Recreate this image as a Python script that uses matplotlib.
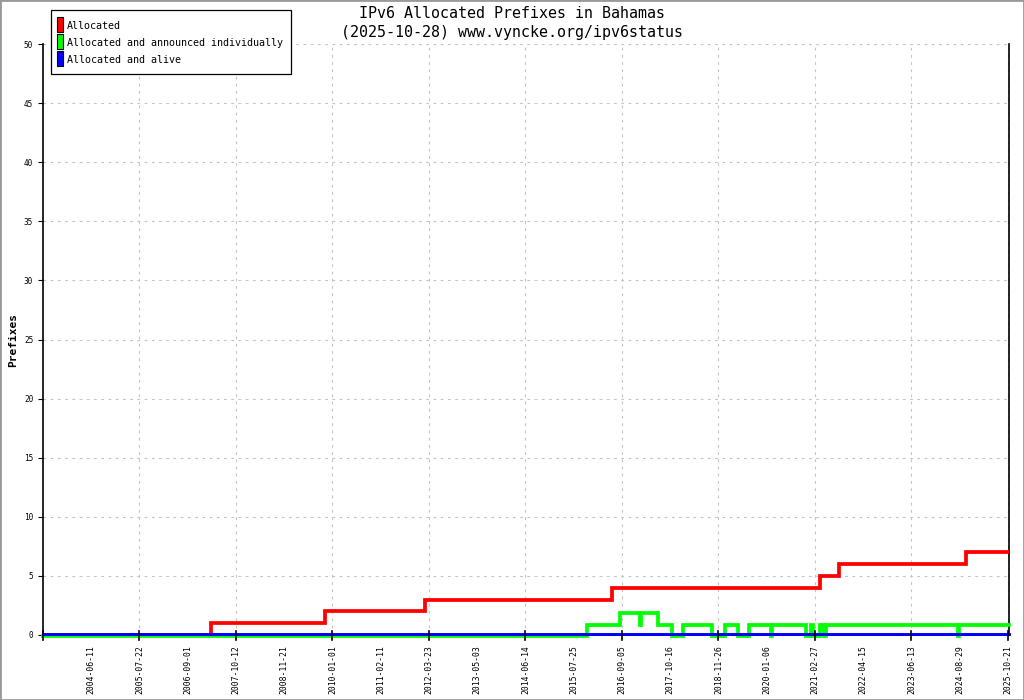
import matplotlib
matplotlib.use("Agg")
import matplotlib.pyplot as plt
import matplotlib.dates as mdates
from matplotlib.patches import Rectangle
import matplotlib.transforms as mtransforms
import numpy as np
from datetime import datetime

plt.rcParams['font.family'] = ['DejaVu Sans Mono']

# ---- data ----
tick_labels = ['2004-06-11', '2005-07-22', '2006-09-01', '2007-10-12', '2008-11-21',
               '2010-01-01', '2011-02-11', '2012-03-23', '2013-05-03', '2014-06-14',
               '2015-07-25', '2016-09-05', '2017-10-16', '2018-11-26', '2020-01-06',
               '2021-02-27', '2022-04-15', '2023-06-13', '2024-08-29', '2025-10-21']

start_date = '2003-04-27'
end_date = '2025-10-28'

red_dates = [start_date, '2007-03-25', '2009-11-19', '2012-03-20', '2016-07-29',
             '2021-06-04', '2021-11-13', '2024-10-29', end_date]
red_vals = [0, 1, 2, 3, 4, 5, 6, 7, 7]

green_dates = [start_date, '2016-01-01', '2016-10-06', '2017-03-25', '2017-03-30',
               '2017-08-25', '2017-12-23', '2018-03-25', '2018-11-27', '2019-03-17',
               '2019-07-06', '2019-10-08', '2020-04-13', '2020-04-18', '2021-02-05',
               '2021-03-24', '2021-04-10', '2021-06-04', '2021-07-08', '2021-07-25',
               '2024-08-22', '2024-08-28', end_date]
green_vals = [0, 1, 2, 1, 2, 1, 0, 1, 0, 1, 0, 1, 0, 1, 0, 1, 0, 1, 0, 1, 0, 1, 1]

blue_dates = [start_date, end_date]
blue_vals = [0, 0]

series_names = ['Allocated', 'Allocated and announced individually', 'Allocated and alive']
series_colors = ['#ff0000', '#00ff00', '#0000ff']

title_line1 = 'IPv6 Allocated Prefixes in Bahamas'
title_line2 = '(2025-10-28) www.vyncke.org/ipv6status'
y_label = 'Prefixes'

W, H = 1024, 700


def to_num(lst):
    return mdates.date2num([datetime.strptime(d, '%Y-%m-%d') for d in lst])


def fx(px):
    return px / W


def fy(py):
    return 1 - py / H


fig = plt.figure(figsize=(10.24, 7.0), dpi=100)
ax = fig.add_axes([fx(43), fy(635), (1009 - 43) / W, (635 - 44) / H])

# tick positions: labels evenly spaced between first and last label date
t_first, t_last = to_num([tick_labels[0], tick_labels[-1]])
step = (t_last - t_first) / (len(tick_labels) - 1)
tick_pos = t_first + step * np.arange(len(tick_labels))

ax.set_xlim(t_first - step, t_last + 0.023 * step)
ax.set_ylim(0, 50)

down = mtransforms.offset_copy(ax.transData, fig=fig, x=0, y=-1.4, units='dots')
up = mtransforms.offset_copy(ax.transData, fig=fig, x=0, y=0.9, units='dots')

ax.step(to_num(red_dates), red_vals, where='post', color=series_colors[0], lw=2.7,
        zorder=3, solid_joinstyle='miter')
ax.step(to_num(green_dates), green_vals, where='post', color=series_colors[1], lw=2.7,
        zorder=4, transform=down, solid_joinstyle='miter', clip_on=False)
ax.step(to_num(blue_dates), blue_vals, where='post', color=series_colors[2], lw=2.1,
        zorder=5, transform=up, clip_on=False)

# grid
ax.set_yticks(np.arange(0, 51, 5))
ax.set_yticklabels([str(v) for v in range(0, 51, 5)], fontsize=5.6)
major_pos = tick_pos[1::2]
for yv in range(5, 51, 5):
    ax.axhline(yv, color='#c4c4c4', lw=0.8, dashes=(2.5, 4), zorder=1)
for xv in major_pos:
    ax.axvline(xv, color='#c4c4c4', lw=0.8, dashes=(2.5, 4), zorder=1)

ax.set_xticks(tick_pos)
ax.set_xticklabels(tick_labels, rotation=90, fontsize=5.9)
ax.tick_params(axis='x', length=0, pad=7.5)
ax.tick_params(axis='y', direction='out', length=3.6, width=0.8, pad=3.5)

# major tick marks (crossing axis) at grid positions
trans = mtransforms.blended_transform_factory(ax.transData, ax.transAxes)
for xv in np.concatenate([[t_first - step], major_pos]):
    ax.plot([xv, xv], [-0.009, 0.006], transform=trans, color='black', lw=1.2,
            clip_on=False, zorder=6)

for s in ['left', 'bottom', 'right']:
    ax.spines[s].set_color('black')
    ax.spines[s].set_linewidth(1.2)
ax.spines['top'].set_visible(False)

# titles
fig.text(0.5, fy(13.5), title_line1, ha='center', va='center', fontsize=10.8)
fig.text(0.5, fy(32), title_line2, ha='center', va='center', fontsize=10.8)
fig.text(fx(13), fy(340), y_label, rotation=90, ha='center', va='center',
         fontsize=8, fontweight='bold')

# legend (drawn as a box with colour keys and real text)
fig.patches.append(Rectangle((fx(50.5), fy(74)), (290.5 - 50.5) / W, (74 - 10.5) / H,
                             transform=fig.transFigure, facecolor='white',
                             edgecolor='black', lw=0.9, zorder=10))
for i, (name, col) in enumerate(zip(series_names, series_colors)):
    top = 17 + 17 * i
    fig.patches.append(Rectangle((fx(56.5), fy(top + 15)), 6 / W, 15 / H,
                                 transform=fig.transFigure, facecolor=col,
                                 edgecolor='black', lw=0.8, zorder=11))
    fig.text(fx(67), fy(top + 9), name, ha='left', va='center', fontsize=7.2, zorder=12)

# figure border
fig.patches.append(Rectangle((0, 0), 1, 1, transform=fig.transFigure, fill=False,
                             edgecolor='#999999', lw=2.0))

fig.savefig('out.png', dpi=100)
